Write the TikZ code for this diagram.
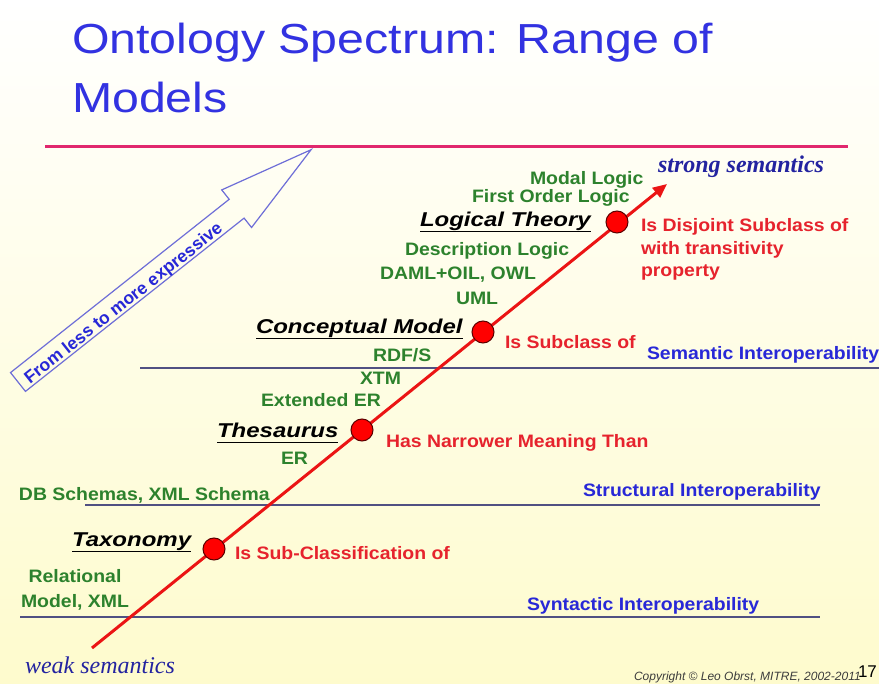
\documentclass[tikz,border=0pt]{standalone}
\usepackage{fontspec}
\setmainfont{Liberation Sans}
\newfontfamily\seriffam{Liberation Serif}
\usetikzlibrary{arrows.meta}
\definecolor{titleblue}{RGB}{50,50,225}
\definecolor{grn}{RGB}{45,130,45}
\definecolor{rdtxt}{RGB}{230,35,45}
\definecolor{rdline}{RGB}{235,20,20}
\definecolor{iblue}{RGB}{40,40,215}
\definecolor{lineblue}{RGB}{80,80,130}
\definecolor{pinkline}{RGB}{225,40,110}
\definecolor{arrowblue}{RGB}{110,110,215}
\definecolor{bgyellow}{RGB}{254,251,205}
\definecolor{semblue}{RGB}{35,35,160}
\begin{document}
\begin{tikzpicture}[x=1pt,y=-1pt,
  every node/.style={inner sep=0pt, outer sep=0pt},
  grntxt/.style={anchor=base west, text=grn, xscale=1.08, font=\fontsize{18}{23}\selectfont\bfseries},
  redtxt/.style={anchor=base west, text=rdtxt, xscale=1.08, font=\fontsize{18}{22.5}\selectfont\bfseries, align=left},
  interop/.style={anchor=base west, text=iblue, xscale=1.08, font=\fontsize{18}{23}\selectfont\bfseries},
  levelname/.style={anchor=base west, text=black, xscale=1.2, font=\fontsize{20}{24}\selectfont\bfseries\itshape},
  titletxt/.style={anchor=base west, text=titleblue, xscale=1.15, font=\fontsize{42}{50}\selectfont},
  ulineS/.style={line width=1.8pt, black},
  hline/.style={lineblue, line width=1.4pt},
  dot/.style={circle, minimum size=22pt, fill=red, draw={rgb,255:red,90;green,0;blue,0}, line width=1pt},
  semtxt/.style={anchor=base west, text=semblue, font=\fontsize{24}{28}\selectfont\seriffam\itshape}
]
\useasboundingbox (0,0) rectangle (879,684);
\shade[top color=white, bottom color=bgyellow] (0,0) rectangle (879,684);

% title
\node[titletxt] (t1) at (72,54) {Ontology Spectrum: Range of};
\node[titletxt] (t2) at (72,113) {Models};
\draw[pinkline, line width=3pt] (45,147) -- (848,147);

% hollow blue arrow
\begin{scope}[shift={(18,382)}, rotate=38.4]
  \draw[arrowblue, line width=1.2pt, line join=miter]
    (0,12) -- (279,12) -- (279,24) -- (374,0) -- (279,-24) -- (279,-12) -- (0,-12) -- cycle;
\end{scope}
\node[rotate=38.4, text=iblue, font=\fontsize{17.5}{20}\selectfont\bfseries] (expr) at (124,304) {From less to more expressive};

% horizontal lines
\coordinate (sa) at (140,368); \coordinate (sb) at (879,368);
\coordinate (sta) at (85,505); \coordinate (stb) at (820,505);
\coordinate (sya) at (20,617); \coordinate (syb) at (820,617);
\draw[hline] (sa) -- (sb);
\draw[hline] (sta) -- (stb);
\draw[hline] (sya) -- (syb);

% main red arrow
\coordinate (ws) at (92,648);
\coordinate (ss) at (667,184);
\draw[rdline, line width=3pt, -{Triangle[length=14pt,width=12pt]}] (ws) -- (ss);

\node[dot] (c1) at (214,549) {};
\node[dot] (c2) at (362,430) {};
\node[dot] (c3) at (483,332) {};
\node[dot] (c4) at (617,222) {};

% level names
\node[levelname] (n4) at (420,227) {Logical Theory};
\node[levelname] (n3) at (256,334) {Conceptual Model};
\node[levelname] (n2) at (217,438) {Thesaurus};
\node[levelname] (n1) at (72,547) {Taxonomy};
\foreach \n in {n1,n2,n3,n4}{
  \draw[ulineS] ([yshift=-4.5pt]\n.base west) -- ([yshift=-4.5pt]\n.base east);
}

% green examples
\node[grntxt] (g1) at (530,185) {Modal Logic};
\node[grntxt] (g2) at (472,203) {First Order Logic};
\node[grntxt] (g3) at (405,256) {Description Logic};
\node[grntxt] (g4) at (380,280) {DAML+OIL, OWL};
\node[grntxt] (g5) at (456,305) {UML};
\node[grntxt] (g6) at (373,362) {RDF/S};
\node[grntxt] (g7) at (360,385) {XTM};
\node[grntxt] (g8) at (261,407) {Extended ER};
\node[grntxt] (g9) at (281,465) {ER};
\node[grntxt] (g10) at (19,501) {DB Schemas, XML Schema};
\node[anchor=base, text=grn, xscale=1.08, font=\fontsize{18}{25}\selectfont\bfseries, align=center] (g11) at (75,608) {Relational\\Model, XML};

% red relations
\node[redtxt] (r4) at (641,277) {Is Disjoint Subclass of\\with transitivity\\property};
\node[redtxt] (r3) at (505,349) {Is Subclass of};
\node[redtxt] (r2) at (386,448) {Has Narrower Meaning Than};
\node[redtxt] (r1) at (235,560) {Is Sub-Classification of};

% interoperability
\node[interop] (i3) at (647,360) {Semantic Interoperability};
\node[interop] (i2) at (583,497) {Structural Interoperability};
\node[interop] (i1) at (527,610) {Syntactic Interoperability};

% semantics labels
\node[semtxt, font=\fontsize{24}{28}\selectfont\seriffam\bfseries\itshape] (strong) at (658,173) {strong semantics};
\node[semtxt] (weak) at (25,673) {weak semantics};

% footer
\node[anchor=base west, text={rgb,255:red,60;green,60;blue,60}, font=\fontsize{12}{14}\selectfont\itshape] (copy) at (634,680) {Copyright \textcopyright{} Leo Obrst, MITRE, 2002-2011};
\node[anchor=base west, text=black, font=\fontsize{17}{20}\selectfont] (pg) at (858,677) {17};
\end{tikzpicture}
\end{document}
